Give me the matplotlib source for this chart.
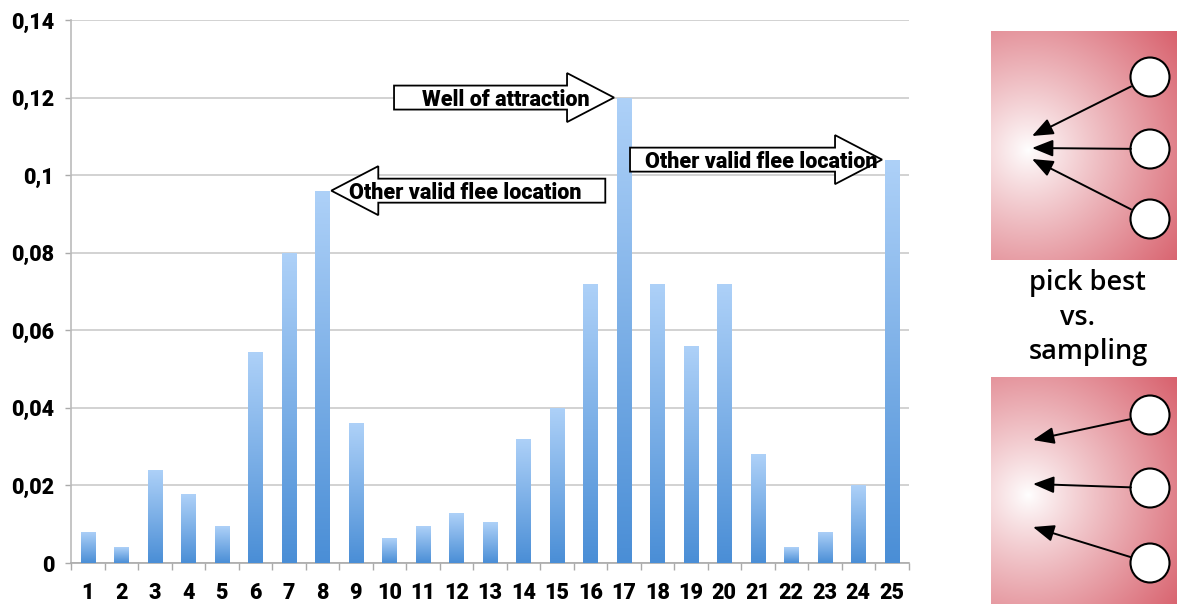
import matplotlib
matplotlib.use("Agg")
import matplotlib.pyplot as plt
import matplotlib.transforms as mtransforms
import numpy as np
from matplotlib.colors import LinearSegmentedColormap, to_rgb
from matplotlib.patches import Circle, Polygon


# bar chart values
categories = [str(i) for i in range(1, 26)]
probabilities = [0.008, 0.004, 0.024, 0.0177, 0.0095, 0.0545, 0.080, 0.096, 0.036, 0.0064,
                 0.0095, 0.0128, 0.0105, 0.032, 0.040, 0.072, 0.120, 0.072, 0.056, 0.072,
                 0.028, 0.004, 0.008, 0.020, 0.104]
y_ticks = [0.0, 0.02, 0.04, 0.06, 0.08, 0.10, 0.12, 0.14]
y_tick_labels = ["0", "0,02", "0,04", "0,06", "0,08", "0,1", "0,12", "0,14"]

# callouts: (text, category index, side of the bar the arrow points at, length in px, text offset)
callouts = [
    ("Well of attraction", 16, "right", 220, -24),
    ("Other valid flee location", 24, "right", 252, -5),
    ("Other valid flee location", 7, "left", 274, 18),
]

# right-hand sketch: circles and arrow tips, in picture pixels
top_panel = (991, 31, 1176, 260)
bottom_panel = (991, 377, 1176, 604)
top_circles = [(1150, 77), (1150, 149), (1150, 219)]
top_tips = [(1032, 136), (1032, 148), (1032, 159)]
bottom_circles = [(1150, 415), (1150, 488), (1150, 563)]
bottom_tips = [(1033, 440), (1033, 484), (1033, 527)]

bar_top_color = "#aed1f8"
bar_bottom_color = "#4a8ed6"
grid_color = "#cfcfcf"
label_font = "Roboto"

plt.rcParams["font.family"] = [label_font, "DejaVu Sans"]


def draw_gradient_bars(axis, x_positions, heights, width):
    bars = axis.bar(x_positions, heights, width=width, color="none", edgecolor="none", zorder=3)
    gradient_map = LinearSegmentedColormap.from_list("bar", [bar_bottom_color, bar_top_color])
    column = np.linspace(0, 1, 256).reshape(-1, 1)
    for patch in bars.patches:
        x0 = patch.get_x()
        h = patch.get_height()
        image = axis.imshow(column, cmap=gradient_map, aspect="auto", origin="lower",
                            extent=[x0, x0 + patch.get_width(), 0, h], zorder=3, interpolation="bicubic")
        image.set_clip_path(patch)
    return bars


def draw_block_arrow(axis, tip_x, tip_y, side, length, text, text_offset):
    head_length = 47
    head_half = 24.5
    body_half = 12.0
    sign = -1 if side == "right" else 1
    points = [(0, 0), (sign * head_length, head_half), (sign * head_length, body_half),
              (sign * length, body_half), (sign * length, -body_half),
              (sign * head_length, -body_half), (sign * head_length, -head_half)]
    transform = mtransforms.Affine2D() + mtransforms.ScaledTranslation(tip_x, tip_y, axis.transData)
    shape = Polygon(points, closed=True, facecolor="white", edgecolor="black", linewidth=1.3,
                    transform=transform, zorder=6, clip_on=False)
    axis.add_patch(shape)
    axis.annotate(text, xy=(tip_x, tip_y), xytext=(text_offset, 0), textcoords="offset pixels",
                  ha="right" if side == "right" else "left", va="center_baseline", fontsize=15.5,
                  fontweight="heavy", zorder=7)


def draw_panel(axis, box, circles, tips):
    x0, y0, x1, y1 = box
    nx, ny = 200, 240
    xs = np.linspace(0, 1, nx)
    ys = np.linspace(0, 1, ny)
    gx, gy = np.meshgrid(xs, ys)
    dx = (gx - 0.2) * (x1 - x0)
    dy = (gy - 0.52) * (y1 - y0)
    radius = np.sqrt(dx ** 2 + dy ** 2)
    t = np.clip(radius / radius.max(), 0, 1) ** 0.9
    white = np.array([1.0, 1.0, 1.0])
    red = np.array(to_rgb("#d8616d"))
    rgb = white[None, None, :] * (1 - t[..., None]) + red[None, None, :] * t[..., None]
    axis.imshow(rgb, extent=[x0, x1, y1, y0], aspect="auto", zorder=1, interpolation="bilinear")
    for (cx, cy), (tx, ty) in zip(circles, tips):
        axis.add_patch(Circle((cx, cy), 19.5, facecolor="white", edgecolor="black", linewidth=1.5, zorder=3))
        axis.annotate("", xy=(tx, ty), xytext=(cx - 19, cy + (ty - cy) * 19 / 118),
                      arrowprops=dict(arrowstyle="-|>,head_length=0.8,head_width=0.32", color="black",
                                      linewidth=1.4, shrinkA=0, shrinkB=0, mutation_scale=16), zorder=4)


figure = plt.figure(figsize=(11.81, 6.05), dpi=100)
figure.patch.set_facecolor("white")

axis = figure.add_axes([71 / 1181, 42 / 605, 837.5 / 1181, 543 / 605])
x_positions = np.arange(1, len(categories) + 1)
draw_gradient_bars(axis, x_positions, probabilities, 0.42)
axis.set_xlim(0.5, len(categories) + 0.5)
axis.set_ylim(0, 0.14)
axis.set_yticks(y_ticks)
axis.set_yticklabels(y_tick_labels)
axis.set_xticks(x_positions)
axis.set_xticklabels(categories)
axis.set_xticks(np.arange(0.5, len(categories) + 1.0, 1.0), minor=True)
axis.tick_params(axis="x", which="major", length=0, pad=14, labelsize=15.5)
axis.tick_params(axis="x", which="minor", length=5, color="#aaaaaa", width=1.0, direction="out")
axis.tick_params(axis="y", length=4, color="#aaaaaa", width=1.0, pad=8, labelsize=15.5)
for label in axis.get_xticklabels() + axis.get_yticklabels():
    label.set_fontweight("heavy")
axis.grid(True, axis="y", color=grid_color, linewidth=1.3, zorder=0)
axis.set_axisbelow(True)
for name in ["top", "right"]:
    axis.spines[name].set_visible(False)
axis.spines["left"].set_color("#bbbbbb")
axis.spines["bottom"].set_color("#aaaaaa")
axis.spines["left"].set_linewidth(1.2)
axis.spines["bottom"].set_linewidth(1.2)

for text, index, side, length, text_offset in callouts:
    value = probabilities[index]
    if side == "right":
        tip_x = x_positions[index] - 0.21 - 0.08
    else:
        tip_x = x_positions[index] + 0.21 + 0.06
    draw_block_arrow(axis, tip_x, value, side, length, text, text_offset)

sketch = figure.add_axes([980 / 1181, 0, 201 / 1181, 1])
sketch.set_xlim(980, 1181)
sketch.set_ylim(605, 0)
sketch.axis("off")
draw_panel(sketch, top_panel, top_circles, top_tips)
draw_panel(sketch, bottom_panel, bottom_circles, bottom_tips)
sketch.set_xlim(980, 1181)
sketch.set_ylim(605, 0)
text_style = dict(ha="center", va="center", fontsize=19.5, family=["Open Sans", "DejaVu Sans"], fontweight="semibold")
sketch.text(1087, 283, "pick best", **text_style)
sketch.text(1077, 318, "vs.", **text_style)
sketch.text(1088, 352, "sampling", **text_style)

figure.savefig("out.png", dpi=100, facecolor="white")
